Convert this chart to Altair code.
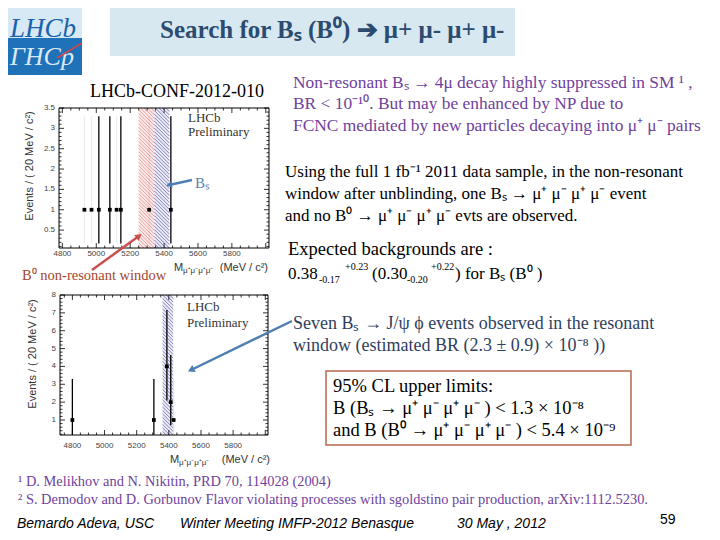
import altair as alt
import pandas as pd
import numpy as np

# ---------------- data ----------------
# upper plot: non-resonant window (20 MeV bins)
nr_mass = [4930, 4972, 5015, 5080, 5120, 5145, 5312, 5440]
nr_events = [1, 1, 1, 1, 1, 1, 1, 1]
nr_err_low = [0.17, 0.17, 0.17, 0.17, 0.17, 0.17, 0.17, 0.17]
nr_err_high = [3.30, 3.30, 3.30, 3.30, 3.30, 3.30, 3.30, 3.30]
nr_bar_visible = [0, 0, 1, 1, 0, 1, 0, 1]
nr_window_names = ["B0", "Bs"]
nr_window_lo = [5250, 5343]
nr_window_hi = [5343, 5431]

# lower plot: resonant (J/psi phi) window
res_mass = [4800, 5307, 5388, 5412, 5430]
res_events = [1, 1, 4, 2, 1]
res_err_low = [0.17, 0.17, 2.09, 0.71, 0.17]
res_err_high = [3.30, 3.30, 7.16, 4.64, 3.30]
res_bar_visible = [1, 1, 1, 1, 0]
res_window_names = ["Bs"]
res_window_lo = [5361]
res_window_hi = [5427]

nr_xlabels = [4800, 5000, 5200, 5400, 5600, 5800]
nr_ylabels = [0.5, 1, 1.5, 2, 2.5, 3, 3.5]
res_xlabels = [4800, 5000, 5200, 5400, 5600, 5800]
res_ylabels = [1, 2, 3, 4, 5, 6, 7, 8]

# ---------------- texts ----------------
title_text = "Search for B\u209b (B\u2070) \u2794 \u03bc+ \u03bc- \u03bc+ \u03bc-"
conf_text = "LHCb-CONF-2012-010"
purple_lines = [
    "Non-resonant B\u209b \u2192 4\u03bc  decay highly suppressed in SM \u00b9 ,",
    "BR < 10\u207b\u00b9\u2070. But may be enhanced by NP due to",
    "FCNC mediated by new particles decaying into \u03bc\u207a \u03bc\u207b pairs",
]
black_lines = [
    "Using the full 1 fb\u207b\u00b9 2011  data sample, in the non-resonant",
    "window after unblinding,  one B\u209b  \u2192 \u03bc\u207a \u03bc\u207b \u03bc\u207a \u03bc\u207b  event",
    "and no B\u2070  \u2192 \u03bc\u207a \u03bc\u207b \u03bc\u207a \u03bc\u207b evts  are observed.",
]
expected_line = "Expected backgrounds are :"
bkg_main = ["0.38", "(0.30", ") for B\u209b (B\u2070 )"]
bkg_sub = ["-0.17", "-0.20"]
bkg_sup = ["+0.23", "+0.22"]
slate_lines = [
    "Seven B\u209b  \u2192 J/\u03c8 \u03d5 events observed in the resonant",
    "window (estimated BR (2.3 \u00b1 0.9) \u00d7 10\u207b\u2078 ))",
]
limit_lines = [
    "95% CL upper limits:",
    "B (B\u209b  \u2192 \u03bc\u207a \u03bc\u207b \u03bc\u207a \u03bc\u207b ) <  1.3 \u00d7 10\u207b\u2078",
    "and B (B\u2070  \u2192 \u03bc\u207a \u03bc\u207b \u03bc\u207a \u03bc\u207b ) <  5.4 \u00d7 10\u207b\u2079",
]
footnotes = [
    "\u00b9 D. Melikhov and N. Nikitin, PRD 70, 114028  (2004)",
    "\u00b2 S.  Demodov and D. Gorbunov  Flavor violating processes with sgoldstino pair production, arXiv:1112.5230.",
]
footer = ["Bemardo Adeva, USC", "Winter Meeting IMFP-2012  Benasque", "30 May , 2012"]
page_no = "59"
prelim = ["LHCb", "Preliminary"]
ytitle = "Events / ( 20 MeV / c\u00b2)"
xtitle_main = "M"
xtitle_sub = "\u03bc\u207a\u03bc\u207b\u03bc\u207a\u03bc\u207b"
xtitle_unit = "(MeV / c\u00b2)"
bs_label = "B\u209b"
b0_label = "B\u2070  non-resonant window"

# ---------------- layout (slide pixels) ----------------
W, H = 704, 524
M = 8
SERIF = "Liberation Serif"
SANS = "Liberation Sans"
ONE = pd.DataFrame({"k": [0]})


def text_layer(items, size, color, font=SERIF, weight="normal", style="normal",
               align="left", baseline="middle", angle=0):
    df = pd.DataFrame(items, columns=["t", "sx", "sy"])
    df["x"] = df["sx"] - M
    df["y"] = df["sy"] - M
    return alt.Chart(df).mark_text(
        font=font, fontSize=size, color=color, fontWeight=weight, fontStyle=style,
        align=align, baseline=baseline, angle=angle,
    ).encode(
        x=alt.X("x:Q", scale=None, axis=None),
        y=alt.Y("y:Q", scale=None, axis=None),
        text="t:N",
    )


def box(x0, y0, x1, y1, **kw):
    return alt.Chart(ONE).mark_rect(**kw).encode(
        x=alt.value(x0 - M), x2=alt.value(x1 - M), y=alt.value(y0 - M), y2=alt.value(y1 - M))


def seg(x0, y0, x1, y1, color, width):
    return alt.Chart(ONE).mark_rule(color=color, strokeWidth=width).encode(
        x=alt.value(x0 - M), x2=alt.value(x1 - M), y=alt.value(y0 - M), y2=alt.value(y1 - M))


def arrow(x0, y0, x1, y1, color, width=2.5, size=60):
    ang = float(np.degrees(np.arctan2(x1 - x0, -(y1 - y0)))) % 360
    head = alt.Chart(ONE).mark_point(shape="triangle-up", filled=True, color=color,
                                     size=size, angle=ang, opacity=1).encode(
        x=alt.value(x1 - M), y=alt.value(y1 - M))
    return [seg(x0, y0, x1, y1, color, width), head]


def plot_panel(mass, ev, lo, hi, vis, wlo, whi, wfill, wline,
               xdom, xr, ydom, yr, xlab, ylab, yminor_step, lab_pad_x):
    xs = alt.Scale(domain=xdom, range=[xr[0] - M, xr[1] - M], nice=False, zero=False)
    ys = alt.Scale(domain=ydom, range=[yr[0] - M, yr[1] - M], nice=False, zero=False)
    xm = (xdom[0], xdom[1], xr[0], xr[1])
    ym = (ydom[0], ydom[1], yr[0], yr[1])

    def d2p(v, m):
        d0, d1, r0, r1 = m
        return r0 + (v - d0) / (d1 - d0) * (r1 - r0)

    def p2d(p, m):
        d0, d1, r0, r1 = m
        return d0 + (p - r0) / (r1 - r0) * (d1 - d0)

    def X(f):
        return alt.X(f, scale=xs, axis=None)

    def Y(f):
        return alt.Y(f, scale=ys, axis=None)

    layers = []
    # window fills
    wdf = pd.DataFrame({"x": wlo, "x2": whi, "y": ydom[0], "y2": ydom[1], "c": wfill})
    layers.append(alt.Chart(wdf).mark_rect(opacity=0.3).encode(
        x=X("x:Q"), x2="x2:Q", y=Y("y:Q"), y2="y2:Q",
        color=alt.Color("c:N", scale=None)))
    # hatching of the windows
    for a, b, col in zip(wlo, whi, wline):
        px0, px1 = d2p(a, xm), d2p(b, xm)
        ptop, pbot = yr[1], yr[0]
        rows = []
        c = ptop - px1
        while c <= pbot - px0:
            xa = max(px0, ptop - c)
            xb = min(px1, pbot - c)
            if xb > xa:
                rows.append({"x": p2d(xa, xm), "x2": p2d(xb, xm),
                             "y": p2d(xa + c, ym), "y2": p2d(xb + c, ym)})
            c += 3.5
        hdf = pd.DataFrame(rows)
        layers.append(alt.Chart(hdf).mark_rule(color=col, strokeWidth=0.8, opacity=0.85).encode(
            x=X("x:Q"), x2="x2:Q", y=Y("y:Q"), y2="y2:Q"))
    # inward ticks on all four sides
    pxX = (xr[1] - xr[0]) / (xdom[1] - xdom[0])
    pxY = (yr[0] - yr[1]) / (ydom[1] - ydom[0])
    trows = []
    xmaj = np.arange(4800, xdom[1] + 1, 200)
    xmin = np.arange(np.ceil(xdom[0] / 50) * 50, xdom[1], 50)
    for t in xmin:
        L = 5 if t in xmaj else 2.5
        trows.append({"x": t, "x2": t, "y": ydom[0], "y2": ydom[0] + L / pxY})
        trows.append({"x": t, "x2": t, "y": ydom[1], "y2": ydom[1] - L / pxY})
    ymin = np.arange(np.ceil(ydom[0] / yminor_step) * yminor_step, ydom[1] + 1e-9, yminor_step)
    for t in ymin:
        L = 5 if any(abs(t - v) < 1e-6 for v in ylab) else 2.5
        trows.append({"x": xdom[0], "x2": xdom[0] + L / pxX, "y": t, "y2": t})
        trows.append({"x": xdom[1], "x2": xdom[1] - L / pxX, "y": t, "y2": t})
    layers.append(alt.Chart(pd.DataFrame(trows)).mark_rule(color="black", strokeWidth=0.8).encode(
        x=X("x:Q"), x2="x2:Q", y=Y("y:Q"), y2="y2:Q"))
    # frame
    fdf = pd.DataFrame({"x": [xdom[0]], "x2": [xdom[1]], "y": [ydom[0]], "y2": [ydom[1]]})
    layers.append(alt.Chart(fdf).mark_rect(fillOpacity=0, stroke="black", strokeWidth=1).encode(
        x=X("x:Q"), x2="x2:Q", y=Y("y:Q"), y2="y2:Q"))
    # tick labels placed through the scales
    xl = pd.DataFrame({"v": xlab, "t": [str(v) for v in xlab], "y": ydom[0]})
    layers.append(alt.Chart(xl).mark_text(font=SANS, fontSize=8, color="#444", baseline="top",
                                          dy=lab_pad_x).encode(
        x=X("v:Q"), y=Y("y:Q"), text="t:N"))
    yl = pd.DataFrame({"v": ylab, "t": [("%g" % v) for v in ylab], "x": xdom[0]})
    layers.append(alt.Chart(yl).mark_text(font=SANS, fontSize=8, color="#444", align="right",
                                          baseline="middle", dx=-4).encode(
        x=X("x:Q"), y=Y("v:Q"), text="t:N"))
    # error bars and points
    ddf = pd.DataFrame({"m": mass, "n": ev, "lo": lo, "hi": hi, "v": vis})
    layers.append(alt.Chart(ddf).mark_rule(color="black", strokeWidth=1.3).encode(
        x=X("m:Q"), y=Y("lo:Q"), y2="hi:Q",
        opacity=alt.Opacity("v:Q", scale=alt.Scale(domain=[0, 1], range=[0.07, 1]), legend=None)))
    layers.append(alt.Chart(ddf).mark_square(color="black", size=14, opacity=1).encode(
        x=X("m:Q"), y=Y("n:Q")))
    return alt.layer(*layers)


panel1 = plot_panel(nr_mass, nr_events, nr_err_low, nr_err_high, nr_bar_visible,
                    nr_window_lo, nr_window_hi, ["#f2b8b8", "#c4c4e6"], ["#e07a7a", "#4b4b9c"],
                    [4780, 6019], [59, 269], [0.06, 3.5], [248, 108], nr_xlabels, nr_ylabels, 0.1, 2)
panel2 = plot_panel(res_mass, res_events, res_err_low, res_err_high, res_bar_visible,
                    res_window_lo, res_window_hi, ["#c4c4e6"], ["#4b4b9c"],
                    [4723, 6017], [60, 268], [0.16, 8], [435, 295], res_xlabels, res_ylabels, 0.2, 7)

layers = []
# logo
layers.append(box(0, 0, 82, 38, color="#d6e9f5"))
layers.append(box(0, 38, 82, 75, color="#1f71b8"))
layers.append(text_layer([("LHCb", 10, 37)], 27, "#1a62ab", style="italic", baseline="alphabetic"))
layers.append(text_layer([("\u0393HCp", 10, 44)], 26, "#d9e9f6", style="italic", baseline="top"))
layers.append(seg(57, 58, 82, 43, "#d04848", 1.5))
# title
layers.append(box(110, 3, 515, 56, color="#d8e8f0"))
layers.append(text_layer([(title_text, 160, 30)], 25, "#2b4b70", weight="bold"))

# plots
layers.append(panel1)
layers.append(panel2)

layers.append(text_layer([(conf_text, 90, 92)], 18, "black"))
layers.append(text_layer([(prelim[0], 188, 118), (prelim[1], 188, 132),
                          (prelim[0], 187, 307), (prelim[1], 187, 323)], 13, "#333333"))
layers.append(text_layer([(ytitle, 30, 166)], 11, "#333333", font=SANS, align="center", angle=270))
layers.append(text_layer([(ytitle, 33, 354)], 11, "#333333", font=SANS, align="center", angle=270))
layers.append(text_layer([(xtitle_main, 174, 268), (xtitle_main, 170, 460)], 11, "#333333", font=SANS))
layers.append(text_layer([(xtitle_sub, 183, 271), (xtitle_sub, 179, 463)], 8, "#333333", font=SANS))
layers.append(text_layer([(xtitle_unit, 268, 268), (xtitle_unit, 270, 460)], 11, "#333333",
                         font=SANS, align="right"))
layers.append(text_layer([(bs_label, 195, 183)], 15, "#5a7fa8"))
layers += arrow(192, 180, 169, 185, "#4f7fb2", 2.5, 45)
layers += arrow(92, 270, 139, 236, "#c9504f", 2.5, 55)
layers.append(text_layer([(b0_label, 22, 276)], 14.5, "#a3452e"))
layers += arrow(292, 321, 191, 370, "#4f7fb2", 2.5, 60)

# right-hand texts
layers.append(text_layer(list(zip(purple_lines, [293, 293, 293], [83, 104, 126])), 17.4, "#6f3f9e"))
layers.append(text_layer(list(zip(black_lines, [285, 285, 285], [172, 194, 216])), 17, "black"))
layers.append(text_layer([(expected_line, 288, 249)], 18.5, "black"))
layers.append(text_layer(list(zip(bkg_main, [288, 372, 455], [274, 274, 274])), 17, "black"))
layers.append(text_layer(list(zip(bkg_sub, [319, 407], [280, 280])), 10, "black"))
layers.append(text_layer(list(zip(bkg_sup, [345, 431], [267, 267])), 10, "black"))
layers.append(text_layer(list(zip(slate_lines, [293, 293], [324, 346])), 18, "#2f3f5e"))
layers.append(box(326, 371, 631, 445, color="white", stroke="#b8674d", strokeWidth=1.5))
layers.append(text_layer(list(zip(limit_lines, [333, 333, 333], [386, 408, 430])), 18.5, "black"))

# footnotes and footer
layers.append(text_layer(list(zip(footnotes, [18, 18], [482, 500])), 14.4, "#6f3f9e"))
layers.append(text_layer(list(zip(footer, [17, 180, 457], [524, 524, 524])), 14, "black",
                         font=SANS, style="italic"))
layers.append(text_layer([(page_no, 660, 520)], 14, "black", font=SANS))

chart = alt.layer(*layers).resolve_scale(x="independent", y="independent").properties(
    width=W, height=H, padding=0, autosize=alt.AutoSizeParams(type="none"),
).configure_view(stroke=None)

chart.save("out.html", embed_options={"renderer": "svg", "actions": False})
